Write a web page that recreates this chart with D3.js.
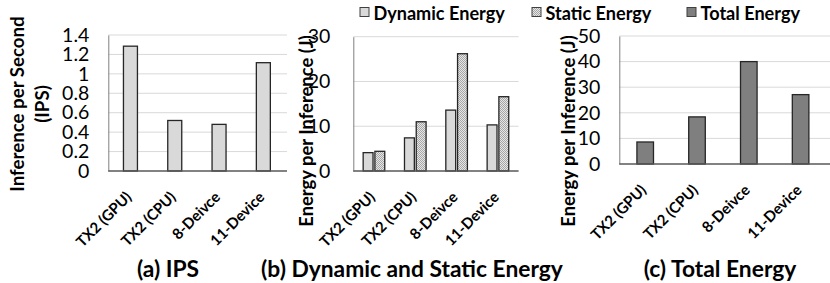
<!DOCTYPE html>
<html><head><meta charset="utf-8">
<script src="https://cdn.jsdelivr.net/npm/d3@7"></script>
<style>body{margin:0;background:#fff}svg{display:block}text{font-family:Lato,"Open Sans",sans-serif}</style>
</head><body><svg id="c" width="830" height="283"></svg>
<script>
const categories = ["TX2 (GPU)", "TX2 (CPU)", "8-Deivce", "11-Device"];
const ips = [1.285, 0.52, 0.48, 1.115];
const dynamicEnergy = [4.1, 7.4, 13.6, 10.3];
const staticEnergy = [4.4, 11.0, 26.2, 16.6];
const totalEnergy = [8.6, 18.4, 40.0, 27.1];
const ipsTicks = [0, 0.2, 0.4, 0.6, 0.8, 1, 1.2, 1.4];
const energyTicksB = [0, 10, 20, 30];
const energyTicksC = [0, 10, 20, 30, 40, 50];
const seriesNames = ["Dynamic Energy", "Static Energy"];

const svg = d3.select("#c");
const defs = svg.append("defs");
const pat = defs.append("pattern").attr("id","chk").attr("width",2).attr("height",2).attr("patternUnits","userSpaceOnUse");
pat.append("rect").attr("width",2).attr("height",2).attr("fill","#e6e6e6");
pat.append("rect").attr("width",1).attr("height",1).attr("fill","#a6a6a6");
pat.append("rect").attr("x",1).attr("y",1).attr("width",1).attr("height",1).attr("fill","#a6a6a6");

const DYN = "#d9d9d9", TOT = "#7f7f7f", STROKE = "#262626", GRID = "#d9d9d9";

function panel(o) {
  const g = svg.append("g");
  const x = d3.scaleBand().domain(categories).range([o.x0, o.x1]);
  const y = d3.scaleLinear().domain([0, o.max]).range([o.y0, o.yTop]);
  g.selectAll(".grid").data(o.ticks.filter(t => t > 0)).enter().append("line")
    .attr("x1", o.x0).attr("x2", o.gridEnd).attr("y1", d => y(d)).attr("y2", d => y(d))
    .attr("stroke", GRID).attr("stroke-width", 1);
  const ya = d3.axisLeft(y).tickValues(o.ticks).tickSize(0).tickPadding(o.tickPad).tickFormat(d => String(d));
  const yg = g.append("g").attr("transform", `translate(${o.x0},0)`).call(ya);
  yg.select(".domain").attr("stroke", "#808080").attr("stroke-width", 1);
  yg.selectAll("text").attr("font-size", 19.5).attr("fill", "#000").attr("font-family", "Lato");
  return {g, x, y};
}

function xAxis(p, o) {
  const xa = d3.axisBottom(p.x).tickSize(0).tickPadding(0);
  const xg = p.g.append("g").attr("transform", `translate(0,${o.y0})`).call(xa);
  xg.select(".domain").attr("stroke", "#595959").attr("stroke-width", 1.6).attr("d", `M${o.x0},0H${o.gridEnd}`);
  xg.selectAll("text").attr("font-size", 15).attr("font-weight", "bold").attr("fill", "#000")
    .attr("text-anchor", "end").attr("dy", 0).attr("y", 0)
    .attr("transform", "translate(2,27) rotate(-45)");
}

// Panel (a)
const oa = {x0: 108.3, x1: 285.5, gridEnd: 287, y0: 171, yTop: 35, max: 1.4, ticks: ipsTicks, tickPad: 19};
const pa = panel(oa);
const bwA = pa.x.bandwidth() * 0.316;
pa.g.selectAll(".ba").data(ips).enter().append("rect")
  .attr("x", (d, i) => pa.x(categories[i]) + pa.x.bandwidth() / 2 - bwA / 2)
  .attr("y", d => pa.y(d)).attr("width", bwA).attr("height", d => oa.y0 - pa.y(d))
  .attr("fill", DYN).attr("stroke", STROKE).attr("stroke-width", 1.3);
xAxis(pa, oa);

// Panel (b)
const ob = {x0: 353.3, x1: 518.6, gridEnd: 518.6, y0: 171, yTop: 36.7, max: 30, ticks: energyTicksB, tickPad: 23};
const pb = panel(ob);
const xs = d3.scaleBand().domain(seriesNames).range([-10.8, 10.8]).paddingInner(0.16);
const pairs = categories.map((c, i) => [
  {c, s: seriesNames[0], v: dynamicEnergy[i]},
  {c, s: seriesNames[1], v: staticEnergy[i]}
]).flat();
pb.g.selectAll(".bb").data(pairs).enter().append("rect")
  .attr("x", d => pb.x(d.c) + pb.x.bandwidth() / 2 + xs(d.s))
  .attr("y", d => pb.y(d.v)).attr("width", xs.bandwidth()).attr("height", d => ob.y0 - pb.y(d.v))
  .attr("fill", d => d.s === seriesNames[0] ? DYN : "url(#chk)").attr("stroke", STROKE).attr("stroke-width", 1.3);
xAxis(pb, ob);

// Panel (c)
const oc = {x0: 619.3, x1: 826.5, gridEnd: 830, y0: 164, yTop: 36, max: 50, ticks: energyTicksC, tickPad: 19};
const pc = panel(oc);
const bwC = pc.x.bandwidth() * 0.32;
pc.g.selectAll(".bc").data(totalEnergy).enter().append("rect")
  .attr("x", (d, i) => pc.x(categories[i]) + pc.x.bandwidth() / 2 - bwC / 2)
  .attr("y", d => pc.y(d)).attr("width", bwC).attr("height", d => oc.y0 - pc.y(d))
  .attr("fill", TOT).attr("stroke", STROKE).attr("stroke-width", 1.3);
xAxis(pc, oc);

// Y axis titles
function ytitle(x, y, txt, fs) {
  svg.append("text").attr("transform", `translate(${x},${y}) rotate(-90)`).attr("text-anchor", "middle")
    .attr("dominant-baseline", "central").attr("font-size", fs).attr("font-weight", "bold").text(txt);
}
ytitle(16.5, 104, "Inference per Second", 18.7);
ytitle(41.5, 104, "(IPS)", 18.7);
ytitle(306, 131, "Energy per Inference (J)", 18.4);
ytitle(567.5, 131, "Energy per Inference (J)", 18.4);

// Subtitles
[["(a) IPS", 168], ["(b) Dynamic and Static Energy", 412], ["(c) Total Energy", 720]].forEach(([t, cx]) => {
  svg.append("text").attr("x", cx).attr("y", 277).attr("text-anchor", "middle")
    .attr("font-size", 22.8).attr("font-weight", "bold").text(t);
});

// Legend
const legend = [
  {name: "Dynamic Energy", fill: DYN, bx: 360},
  {name: "Static Energy", fill: "url(#chk)", bx: 532},
  {name: "Total Energy", fill: TOT, bx: 687}
];
legend.forEach(l => {
  svg.append("rect").attr("x", l.bx).attr("y", 7.5).attr("width", 9).attr("height", 9)
    .attr("fill", l.fill).attr("stroke", "#404040").attr("stroke-width", 1);
  svg.append("text").attr("x", l.bx + 13.5).attr("y", 19.5).attr("font-size", 18.1).attr("font-weight", "bold").text(l.name);
});
</script></body></html>
